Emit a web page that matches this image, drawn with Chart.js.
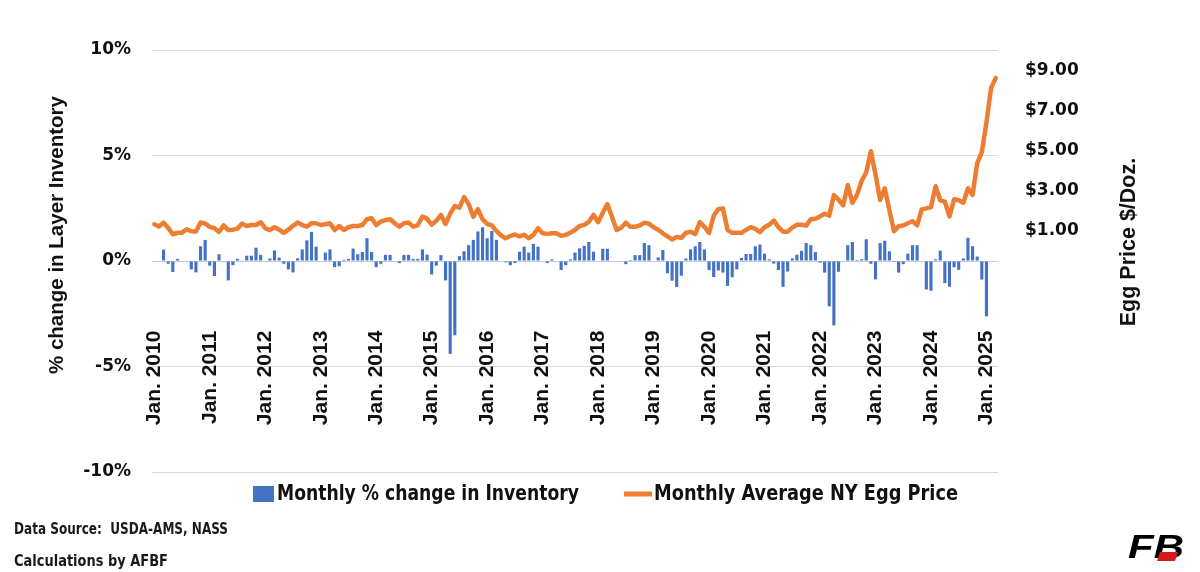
<!DOCTYPE html>
<html lang="en">
<head>
<meta charset="UTF-8">
<title>Layer inventory and NY egg price</title>
<script src="https://cdn.jsdelivr.net/npm/chart.js@4.4.1/dist/chart.umd.min.js"></script>
<style>
  body { margin: 0; background: #fff; }
</style>
</head>
<body>
<canvas id="chart" width="1200" height="572"></canvas>
<script>
// months Jan. 2010 .. Mar. 2025
var monthNames = ['Jan.', 'Feb.', 'Mar.', 'Apr.', 'May', 'Jun.', 'Jul.', 'Aug.', 'Sep.', 'Oct.', 'Nov.', 'Dec.'];
var months = [];
for (var yr = 2010; yr <= 2025; yr++) {
    for (var m = 0; m < 12; m++) {
        if (yr == 2025 && m > 2) break;
        months.push(monthNames[m] + ' ' + yr);
    }
}

// monthly % change in layer inventory (Jan 2010 .. Jan 2025)
var inventoryChange = [
    0, 0, 0.54, -0.13, -0.52, 0.10, -0.02, -0.03, -0.40, -0.54, 0.70, 1.00,
    -0.22, -0.71, 0.32, 0.00, -0.92, -0.20, 0.10, 0.03, 0.25, 0.25, 0.63, 0.29,
    -0.02, 0.12, 0.50, 0.16, -0.13, -0.40, -0.54, 0.13, 0.55, 0.98, 1.38, 0.68,
    0.00, 0.40, 0.55, -0.29, -0.25, 0.06, 0.10, 0.59, 0.32, 0.43, 1.08, 0.43,
    -0.29, -0.13, 0.29, 0.29, 0.00, -0.10, 0.29, 0.29, 0.10, 0.10, 0.55, 0.30,
    -0.64, -0.22, 0.28, -0.92, -4.40, -3.52, 0.23, 0.46, 0.75, 1.00, 1.40, 1.60,
    1.08, 1.43, 1.00, 0.00, -0.06, -0.20, -0.10, 0.44, 0.68, 0.40, 0.81, 0.68,
    0.00, -0.10, 0.08, 0.00, -0.43, -0.20, 0.08, 0.40, 0.60, 0.72, 0.90, 0.44,
    0.00, 0.58, 0.58, 0.00, 0.02, 0.00, -0.15, 0.05, 0.28, 0.28, 0.85, 0.75,
    0.00, 0.17, 0.52, -0.58, -0.93, -1.23, -0.70, 0.12, 0.55, 0.70, 0.90, 0.55,
    -0.43, -0.76, -0.45, -0.55, -1.18, -0.77, -0.40, 0.15, 0.33, 0.33, 0.70, 0.78,
    0.35, 0.08, -0.12, -0.43, -1.22, -0.50, 0.12, 0.30, 0.48, 0.85, 0.75, 0.42,
    -0.08, -0.55, -2.15, -3.05, -0.51, 0.02, 0.75, 0.90, 0.05, 0.08, 1.03, -0.13,
    -0.87, 0.85, 0.96, 0.46, -0.05, -0.55, -0.15, 0.35, 0.75, 0.75, 0.00, -1.35,
    -1.41, 0.08, 0.49, -1.05, -1.22, -0.30, -0.42, 0.12, 1.10, 0.70, 0.21, -0.88,
    -2.62, null, null
];

// monthly average NY egg price, $/doz (Jan 2010 .. Mar 2025)
var eggPrice = [
    1.33, 1.22, 1.41, 1.15, 0.83, 0.90, 0.91, 1.08, 0.98, 0.97, 1.42, 1.36,
    1.20, 1.13, 0.95, 1.27, 1.04, 1.06, 1.11, 1.36, 1.24, 1.29, 1.29, 1.43,
    1.13, 1.04, 1.18, 1.06, 0.90, 1.06, 1.25, 1.41, 1.29, 1.21, 1.38, 1.38,
    1.29, 1.33, 1.38, 1.04, 1.24, 1.04, 1.18, 1.24, 1.24, 1.29, 1.58, 1.63,
    1.29, 1.46, 1.54, 1.58, 1.38, 1.21, 1.38, 1.41, 1.21, 1.29, 1.71, 1.60,
    1.31, 1.50, 1.79, 1.34, 1.86, 2.24, 2.15, 2.68, 2.33, 1.70, 2.08, 1.58,
    1.34, 1.27, 1.00, 0.78, 0.63, 0.74, 0.82, 0.73, 0.80, 0.63, 0.80, 1.13,
    0.88, 0.85, 0.88, 0.88, 0.75, 0.80, 0.91, 1.04, 1.24, 1.30, 1.45, 1.79,
    1.43, 1.90, 2.33, 1.70, 1.04, 1.15, 1.41, 1.20, 1.20, 1.27, 1.40, 1.36,
    1.18, 1.06, 0.88, 0.73, 0.57, 0.70, 0.65, 0.90, 0.96, 0.84, 1.44, 1.20,
    0.90, 1.75, 2.08, 2.12, 1.04, 0.90, 0.90, 0.90, 1.05, 1.18, 1.10, 0.93,
    1.18, 1.30, 1.51, 1.18, 0.96, 0.96, 1.16, 1.30, 1.30, 1.26, 1.58, 1.60,
    1.72, 1.85, 1.76, 2.78, 2.55, 2.27, 3.28, 2.39, 2.79, 3.48, 3.92, 4.96,
    3.82, 2.54, 3.12, 2.04, 0.98, 1.23, 1.27, 1.38, 1.48, 1.27, 2.07, 2.12,
    2.18, 3.22, 2.52, 2.45, 1.72, 2.57, 2.52, 2.40, 3.12, 2.79, 4.36, 4.92,
    6.40, 8.10, 8.60
];

var pctTicks = [-10, -5, 0, 5, 10];
var priceTicks = [1, 3, 5, 7, 9];

var leftTitle = '% change in Layer Inventory';
var rightTitle = 'Egg Price $/Doz.';
var footLines = ['Data Source:  USDA-AMS, NASS', 'Calculations by AFBF'];

var BLUE = '#4472C4';
var ORANGE = '#ED7D31';

// text squeezed or widened to a given width
function fitText(c, txt, x, y, w) {
    var mw = c.measureText(txt).width;
    c.save();
    c.translate(x, y);
    c.scale(w / mw, 1);
    c.fillText(txt, 0, 0);
    c.restore();
}

// vertical text, reading upwards
function upText(c, txt, x, y) {
    c.save();
    c.translate(x, y);
    c.rotate(-Math.PI / 2);
    c.fillText(txt, 0, 0);
    c.restore();
}

var extras = {
    id: 'extras',
    afterDraw: function (chart) {
        var c = chart.ctx;
        var xs = chart.scales.x;
        var ys = chart.scales.pct;
        c.save();
        c.fillStyle = '#111';

        // year labels, hanging below about -3.3%
        c.font = 'bold 21px "Liberation Sans", Arial, sans-serif';
        c.textAlign = 'right';
        c.textBaseline = 'middle';
        var labTop = ys.getPixelForValue(-3.3);
        months.forEach(function (lab, i) {
            if (lab.indexOf('Jan.') !== 0) return;
            upText(c, lab, xs.getPixelForValue(i), labTop);
        });

        // axis titles
        c.textAlign = 'center';
        c.font = 'bold 20.5px "Liberation Sans", Arial, sans-serif';
        upText(c, leftTitle, 57, 235);
        c.font = 'bold 21.5px "Liberation Sans", Arial, sans-serif';
        upText(c, rightTitle, 1129, 242);

        // legend
        var ds = chart.data.datasets;
        c.textAlign = 'left';
        c.font = 'bold 22px "Liberation Sans Narrow", "DejaVu Sans Condensed", "Liberation Sans", sans-serif';
        c.fillStyle = BLUE;
        c.fillRect(253, 486, 21, 16);
        c.fillStyle = '#111';
        fitText(c, ds[1].label, 277, 494, 302);
        c.strokeStyle = ORANGE;
        c.lineWidth = 5;
        c.beginPath();
        c.moveTo(624, 494);
        c.lineTo(652, 494);
        c.stroke();
        fitText(c, ds[0].label, 654, 494, 304);

        // source notes
        c.fillStyle = '#1a1a1a';
        c.font = 'bold 15px "Liberation Sans Narrow", "DejaVu Sans Condensed", "Liberation Sans", sans-serif';
        fitText(c, footLines[0], 14, 530, 214);
        fitText(c, footLines[1], 14, 562, 154);

        // little FB mark
        c.font = 'italic bold 34px "Liberation Sans", Arial, sans-serif';
        c.fillStyle = '#000';
        fitText(c, 'FB', 1128, 549, 56);
        c.fillStyle = '#d71920';
        c.beginPath();
        c.moveTo(1160, 552);
        c.lineTo(1178, 552);
        c.lineTo(1175, 561);
        c.lineTo(1157, 561);
        c.closePath();
        c.fill();
        c.restore();
    }
};

var tickFont = { family: '"DejaVu Sans", sans-serif', size: 17, weight: 'bold' };

var chart = new Chart(document.getElementById('chart').getContext('2d'), {
    type: 'bar',
    data: {
        labels: months,
        datasets: [{
            type: 'line',
            label: 'Monthly Average NY Egg Price',
            data: eggPrice,
            yAxisID: 'price',
            borderColor: ORANGE,
            backgroundColor: ORANGE,
            borderWidth: 4.5,
            pointRadius: 0,
            tension: 0,
            borderJoinStyle: 'round',
            borderCapStyle: 'round',
            order: 0
        }, {
            label: 'Monthly % change in Inventory',
            data: inventoryChange,
            yAxisID: 'pct',
            backgroundColor: BLUE,
            barPercentage: 0.68,
            categoryPercentage: 1,
            order: 1
        }]
    },
    options: {
        responsive: false,
        animation: false,
        layout: { padding: { top: 50, bottom: 100, left: 0, right: 0 } },
        plugins: {
            legend: { display: false },
            tooltip: { enabled: false }
        },
        scales: {
            x: { display: false, offset: true },
            pct: {
                position: 'left',
                min: -10,
                max: 10,
                afterBuildTicks: function (s) { s.ticks = pctTicks.map(function (v) { return { value: v }; }); },
                afterFit: function (s) { s.width = 152; },
                ticks: {
                    padding: 21,
                    color: '#111',
                    font: tickFont,
                    callback: function (v) { return v + '%'; }
                },
                grid: {
                    drawTicks: false,
                    color: function (ctx) { return ctx.tick && ctx.tick.value === 0 ? '#c3c9de' : '#dadada'; }
                },
                border: { display: false }
            },
            price: {
                position: 'right',
                min: -11,
                max: 10,
                afterBuildTicks: function (s) { s.ticks = priceTicks.map(function (v) { return { value: v }; }); },
                afterFit: function (s) { s.width = 202; },
                ticks: {
                    padding: 27,
                    color: '#111',
                    font: tickFont,
                    callback: function (v) { return '$' + v.toFixed(2); }
                },
                grid: { display: false, drawTicks: false },
                border: { display: false }
            }
        }
    },
    plugins: [extras]
});
</script>
</body>
</html>
